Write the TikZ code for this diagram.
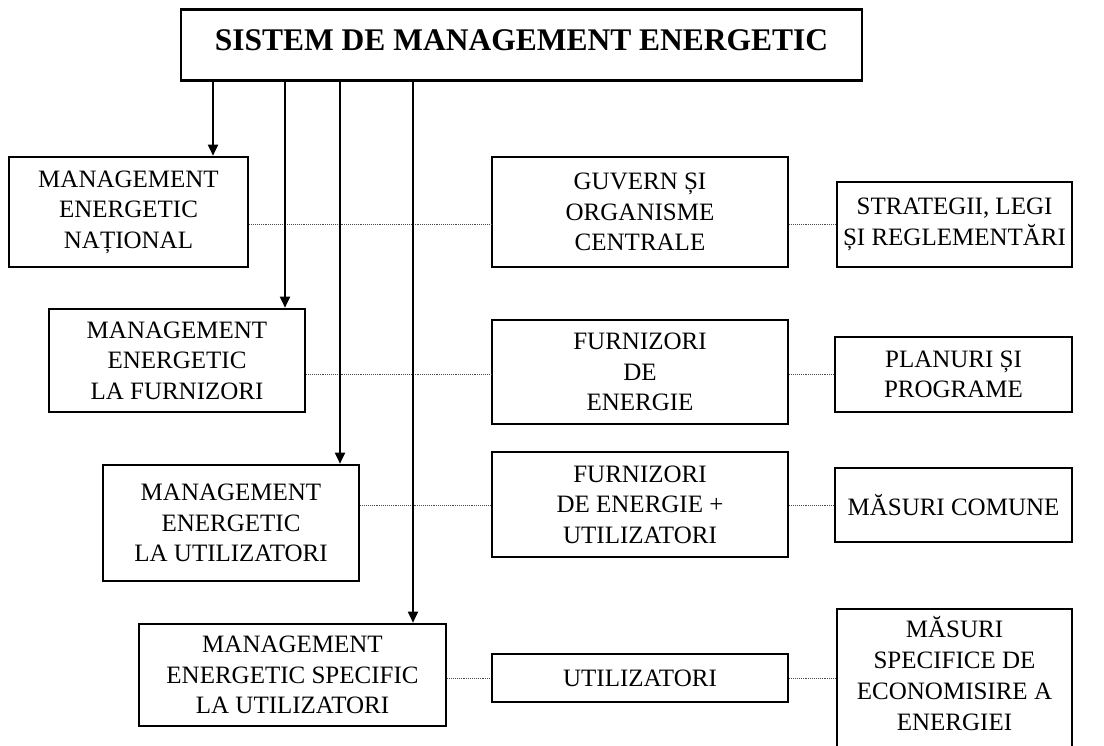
\documentclass[tikz,border=0pt]{standalone}
\usepackage{fontspec}
\setmainfont{Liberation Serif}
\usetikzlibrary{arrows.meta, positioning}

\begin{document}
\begin{tikzpicture}[
    x=1pt, y=-1pt,
    box/.style={rectangle, draw, line width=2.6pt, align=center, inner sep=2pt, font=\fontsize{25pt}{30.5pt}\selectfont},
    boxtext/.style={align=center, inner sep=2pt, font=\fontsize{25pt}{31pt}\selectfont},
    arrow/.style={-{Triangle[length=11pt, width=10pt]}, line width=1.8pt},
    link/.style={densely dotted, line width=0.9pt, gray!60!black}
  ]
    \useasboundingbox (0,0) rectangle (1104,746);
    \clip (0,0) rectangle (1104,746);

    \node[box, font=\fontsize{31.5pt}{36pt}\selectfont\bfseries, minimum width=681pt, minimum height=71pt, text depth=10pt] (sme) at (521.5,45) {SISTEM DE MANAGEMENT ENERGETIC};

    \node[box, minimum width=239pt, minimum height=110pt] (men) at (128.5,212) {MANAGEMENT\\ENERGETIC\\NAȚIONAL};
    \node[box, minimum width=256pt, minimum height=103pt] (mef) at (177,360.5) {MANAGEMENT\\ENERGETIC\\LA FURNIZORI};
    \node[box, minimum width=256pt, minimum height=116pt] (meu) at (231,523) {MANAGEMENT\\ENERGETIC\\LA UTILIZATORI};
    \node[box, minimum width=307pt, minimum height=102pt] (mes) at (292.5,675) {MANAGEMENT\\ENERGETIC SPECIFIC\\LA UTILIZATORI};

    \node[box, minimum width=296pt, minimum height=110pt] (guv) at (640,212) {GUVERN ȘI\\ORGANISME\\CENTRALE};
    \node[box, minimum width=296pt, minimum height=104pt] (fur) at (640,372) {FURNIZORI\\DE\\ENERGIE};
    \node[box, minimum width=296pt, minimum height=105pt] (feu) at (640,504.5) {FURNIZORI\\DE ENERGIE +\\UTILIZATORI};
    \node[box, minimum width=296pt, minimum height=48pt] (uti) at (640,678) {UTILIZATORI};

    \node[box, minimum width=235pt, minimum height=85pt] (str) at (954.5,224.5) {STRATEGII, LEGI\\ȘI REGLEMENTĂRI};
    \node[box, minimum width=237pt, minimum height=75pt] (pla) at (953.5,374.5) {PLANURI ȘI\\PROGRAME};
    \node[box, minimum width=237pt, minimum height=74pt] (mco) at (953.5,505) {MĂSURI COMUNE};
    \node[box, minimum width=235pt, minimum height=152pt] (mse) at (954.5,685) {};
    \node[boxtext, below=6pt of mse.north] (mset) {MĂSURI\\SPECIFICE DE\\ECONOMISIRE A\\ENERGIEI};

    \coordinate (t1) at (213,80.5);
    \coordinate (t2) at (285,80.5);
    \coordinate (t3) at (340,80.5);
    \coordinate (t4) at (413,80.5);

    \draw[link] (men.east |- str.west) -- (guv.west |- str.west);
    \draw[link] (guv.east |- str.west) -- (str.west);
    \draw[link] (mef.east |- pla.west) -- (fur.west |- pla.west);
    \draw[link] (fur.east |- pla.west) -- (pla.west);
    \draw[link] (meu.east |- mco.west) -- (feu.west |- mco.west);
    \draw[link] (feu.east |- mco.west) -- (mco.west);
    \draw[link] (mes.east |- uti.west) -- (uti.west);
    \draw[link] (uti.east) -- (uti.east -| mse.west);

    \draw[arrow] (t1) -- (t1 |- men.north);
    \draw[arrow] (t2) -- (t2 |- mef.north);
    \draw[arrow] (t3) -- (t3 |- meu.north);
    \draw[arrow] (t4) -- (t4 |- mes.north);
  \end{tikzpicture}
\end{document}
